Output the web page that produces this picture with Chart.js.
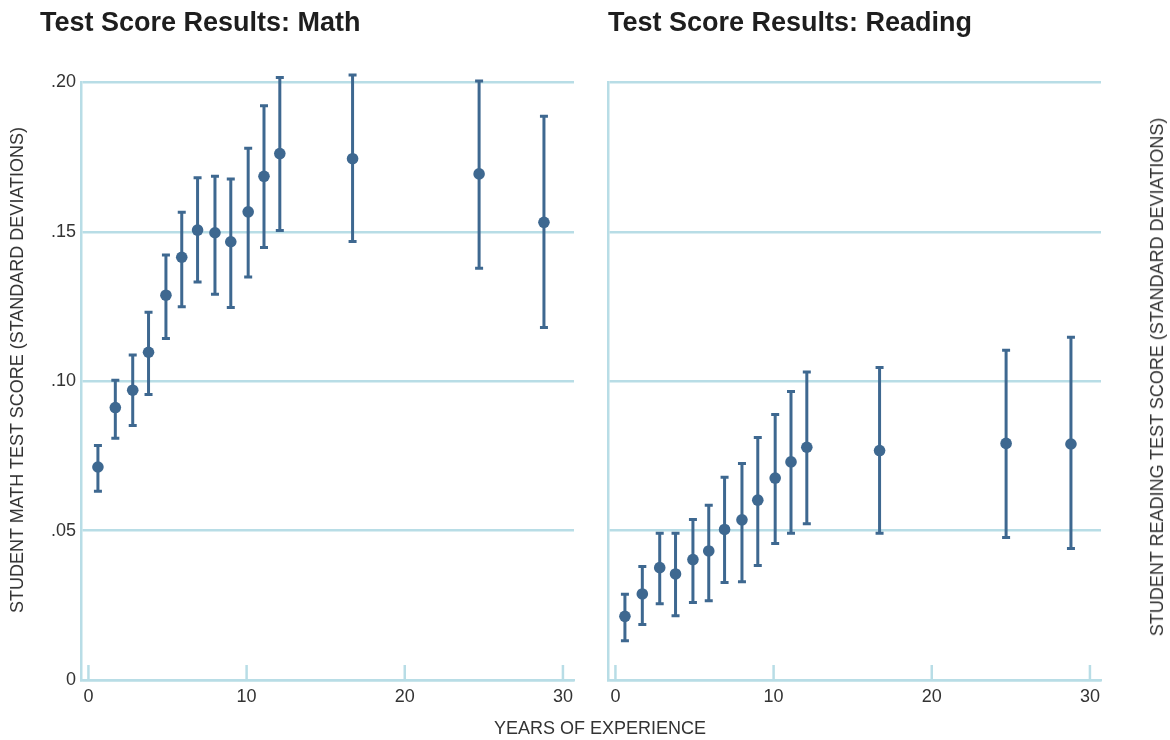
<!DOCTYPE html>
<html>
<head>
<meta charset="utf-8">
<script src="https://cdn.jsdelivr.net/npm/chart.js@4.4.1/dist/chart.umd.min.js"></script>
<style>
  body { margin: 0; background: #fff; }
  #wrap { position: relative; width: 1170px; height: 740px; overflow: hidden; font-family: "Liberation Sans", Arial, sans-serif; color: #222; }
  canvas { position: absolute; top: 0; }
  .title { position: absolute; top: 8px; font-size: 27px; font-weight: bold; color: #1e1e1e; line-height: 28px; white-space: nowrap; }
  .axis { position: absolute; font-size: 18px; color: #333; white-space: nowrap; line-height: 20px; }
  .rot { transform: translate(-50%, -50%) rotate(-90deg); }
</style>
</head>
<body>
<div id="wrap">
  <canvas id="math" width="600" height="740" style="left:0px"></canvas>
  <canvas id="reading" width="643" height="740" style="left:527px"></canvas>
  <div class="title" style="left:40px">Test Score Results: Math</div>
  <div class="title" style="left:608px">Test Score Results: Reading</div>
  <div class="axis rot" style="left:17px; top:370px">STUDENT MATH TEST SCORE (STANDARD DEVIATIONS)</div>
  <div class="axis rot" style="left:1157px; top:377px">STUDENT READING TEST SCORE (STANDARD DEVIATIONS)</div>
  <div class="axis" style="left:600px; top:718px; transform: translateX(-50%)">YEARS OF EXPERIENCE</div>
</div>
<script>
// years of experience (x position of each estimate)
const years = [0.6, 1.7, 2.8, 3.8, 4.9, 5.9, 6.9, 8.0, 9.0, 10.1, 11.1, 12.1, 16.7, 24.7, 28.8];

const mathScore = [0.0713, 0.0912, 0.0970, 0.1097, 0.1288, 0.1415, 0.1506, 0.1497, 0.1467, 0.1567, 0.1686, 0.1762, 0.1745, 0.1694, 0.1532];
const mathHi    = [0.0785, 0.1003, 0.1088, 0.1231, 0.1423, 0.1566, 0.1681, 0.1686, 0.1677, 0.1780, 0.1922, 0.2017, 0.2025, 0.2005, 0.1887];
const mathLo    = [0.0632, 0.0809, 0.0852, 0.0956, 0.1143, 0.1249, 0.1332, 0.1291, 0.1247, 0.1349, 0.1448, 0.1505, 0.1468, 0.1378, 0.1180];

const readScore = [0.0213, 0.0288, 0.0376, 0.0355, 0.0403, 0.0432, 0.0504, 0.0536, 0.0602, 0.0676, 0.0730, 0.0779, 0.0768, 0.0792, 0.0790];
const readHi    = [0.0287, 0.0380, 0.0491, 0.0491, 0.0537, 0.0585, 0.0679, 0.0725, 0.0812, 0.0889, 0.0966, 0.1031, 0.1046, 0.1104, 0.1147];
const readLo    = [0.0131, 0.0186, 0.0255, 0.0215, 0.0259, 0.0265, 0.0326, 0.0329, 0.0383, 0.0457, 0.0491, 0.0523, 0.0491, 0.0477, 0.0440];

const xTicks = [0, 10, 20, 30];
const yTicks = [0, 0.05, 0.10, 0.15, 0.20];

const markColor = "#3e6890";
const gridColor = "#b8dde6";

// error bars drawn under the dots
const errorBars = {
  id: "errorBars",
  beforeDatasetsDraw(chart, args, opts) {
    const { ctx, scales: { x, y } } = chart;
    ctx.save();
    ctx.strokeStyle = markColor;
    ctx.lineWidth = 3;
    ctx.lineCap = "butt";
    opts.lo.forEach((lo, i) => {
      const px = x.getPixelForValue(years[i]);
      const top = y.getPixelForValue(opts.hi[i]);
      const bot = y.getPixelForValue(lo);
      ctx.beginPath();
      ctx.moveTo(px, top);
      ctx.lineTo(px, bot);
      ctx.moveTo(px - 4, top);
      ctx.lineTo(px + 4, top);
      ctx.moveTo(px - 4, bot);
      ctx.lineTo(px + 4, bot);
      ctx.stroke();
    });
    ctx.restore();
  },
};

// little tick marks standing up from the x axis
const innerTicks = {
  id: "innerTicks",
  afterDraw(chart) {
    const { ctx, scales: { x, y } } = chart;
    const base = y.getPixelForValue(0);
    ctx.save();
    ctx.strokeStyle = gridColor;
    ctx.lineWidth = 2.5;
    xTicks.forEach((v) => {
      const px = x.getPixelForValue(v);
      ctx.beginPath();
      ctx.moveTo(px, base);
      ctx.lineTo(px, base - 15);
      ctx.stroke();
    });
    ctx.restore();
  },
};

function makeChart(id, values, lo, hi, showY, padRight) {
  return new Chart(document.getElementById(id), {
    type: "scatter",
    data: {
      datasets: [
        {
          data: values.map((v, i) => ({ x: years[i], y: v })),
          backgroundColor: markColor,
          borderWidth: 0,
          pointRadius: 5.8,
        },
      ],
    },
    options: {
      responsive: false,
      animation: false,
      devicePixelRatio: 1,
      layout: { padding: { top: 82.5, right: padRight, bottom: 10, left: 0 } },
      plugins: {
        legend: { display: false },
        tooltip: { enabled: false },
        errorBars: { lo, hi },
      },
      scales: {
        x: {
          type: "linear",
          min: -0.47,
          max: 30.7,
          afterBuildTicks: (s) => { s.ticks = xTicks.map((v) => ({ value: v })); },
          afterFit: (s) => { s.height = 50; },
          grid: { display: false, drawTicks: false },
          border: { color: gridColor, width: 2.5 },
          ticks: {
            color: "#333",
            padding: 6,
            maxRotation: 0,
            font: { family: "Liberation Sans", size: 18 },
          },
        },
        y: {
          min: 0,
          max: 0.2,
          afterBuildTicks: (s) => { s.ticks = yTicks.map((v) => ({ value: v })); },
          afterFit: (s) => { s.width = 81; },
          grid: { color: gridColor, lineWidth: 2.5, drawTicks: false },
          border: { color: gridColor, width: 2.5 },
          ticks: {
            display: showY,
            color: "#333",
            padding: 5,
            font: { family: "Liberation Sans", size: 18 },
            callback: (v) => (v === 0 ? "0" : v.toFixed(2).replace(/^0/, "")),
          },
        },
      },
    },
    plugins: [errorBars, innerTicks],
  });
}

makeChart("math", mathScore, mathLo, mathHi, true, 26);
makeChart("reading", readScore, readLo, readHi, false, 69);
</script>
</body>
</html>
